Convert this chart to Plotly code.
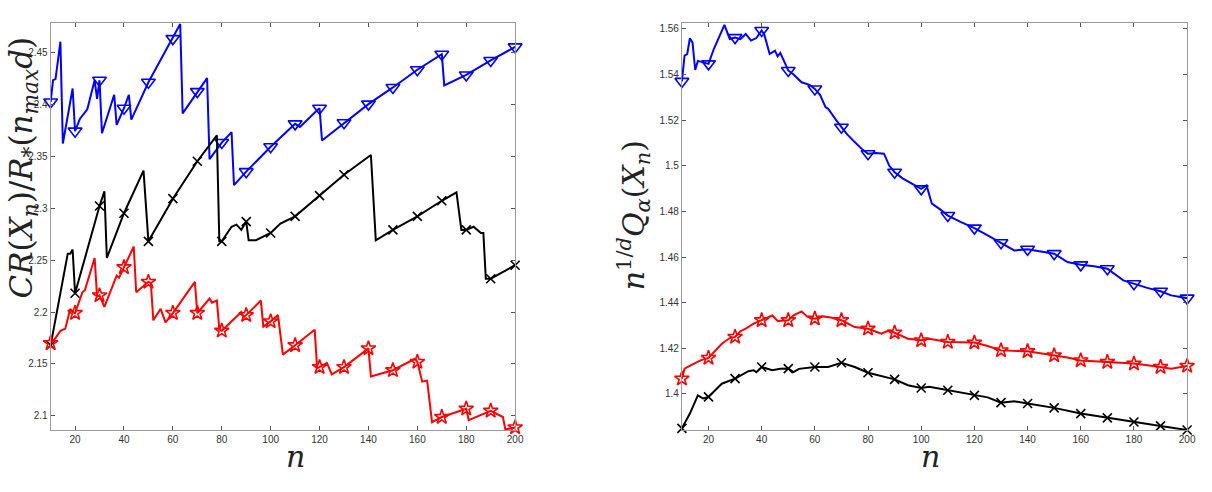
import plotly.graph_objects as go

# ---------------- Left panel: CR(X_n)/R_*(n_max d) ----------------
left_blue_n = [10, 11, 12, 14, 15, 19, 20, 22, 25, 28, 29, 30, 31, 36, 37, 40, 42, 43, 50, 60, 63, 64,
               70, 74, 75, 80, 84, 85, 90, 100, 110, 112, 119, 120, 121, 130, 140, 150, 160, 170, 171,
               180, 190, 200]
left_blue_v = [2.402, 2.423, 2.424, 2.460, 2.362, 2.415, 2.374, 2.386, 2.395, 2.423, 2.405, 2.423, 2.372,
               2.409, 2.380, 2.396, 2.409, 2.385, 2.421, 2.463, 2.477, 2.391, 2.412, 2.425, 2.347, 2.363,
               2.373, 2.322, 2.335, 2.359, 2.381, 2.378, 2.394, 2.396, 2.365, 2.382, 2.400, 2.416, 2.433,
               2.448, 2.418, 2.428, 2.442, 2.455]

left_black_n = [10, 12, 13, 17, 18, 19, 20, 30, 32, 33, 40, 48, 50, 60, 70, 78, 79, 80, 84, 86, 88, 90,
                91, 94, 100, 104, 110, 120, 130, 141, 143, 150, 160, 170, 176, 178, 180, 183, 186, 187,
                188, 190, 200]
left_black_v = [2.168, 2.194, 2.203, 2.256, 2.256, 2.260, 2.218, 2.302, 2.316, 2.252, 2.295, 2.336, 2.268,
                2.309, 2.345, 2.370, 2.268, 2.268, 2.282, 2.284, 2.279, 2.287, 2.269, 2.269, 2.276, 2.285,
                2.292, 2.312, 2.332, 2.351, 2.269, 2.279, 2.292, 2.307, 2.315, 2.279, 2.279, 2.282, 2.276,
                2.276, 2.232, 2.232, 2.245]

left_red_n = [10, 12, 14, 16, 18, 19, 20, 23, 24, 28, 29, 30, 32, 37, 38, 40, 44, 45, 48, 50, 51, 52, 55,
              57, 60, 69, 70, 75, 76, 78, 79, 80, 88, 89, 90, 96, 97, 100, 103, 105, 110, 118, 119, 120,
              123, 125, 130, 140, 141, 150, 159, 160, 162, 164, 166, 170, 180, 181, 190, 195, 196, 200]
left_red_v = [2.170, 2.175, 2.182, 2.184, 2.203, 2.200, 2.199, 2.219, 2.221, 2.252, 2.215, 2.216, 2.205,
              2.235, 2.233, 2.243, 2.263, 2.219, 2.225, 2.229, 2.228, 2.192, 2.203, 2.190, 2.199, 2.229,
              2.199, 2.213, 2.209, 2.211, 2.183, 2.182, 2.200, 2.195, 2.197, 2.211, 2.186, 2.191, 2.197,
              2.159, 2.168, 2.183, 2.146, 2.147, 2.151, 2.140, 2.147, 2.165, 2.138, 2.144, 2.155, 2.152,
              2.133, 2.134, 2.094, 2.099, 2.107, 2.096, 2.105, 2.099, 2.087, 2.089]

# ---------------- Right panel: n^{1/d} Q_alpha(X_n) ----------------
right_blue_n = [10, 11, 12, 13, 14, 15, 16, 18, 20, 22, 26, 28, 30, 32, 34, 36, 38, 40, 41, 43, 45, 46,
                47, 50, 52, 55, 58, 60, 62, 64, 65, 68, 70, 72, 75, 78, 80, 83, 86, 88, 90, 93, 96, 100,
                102, 104, 107, 110, 115, 120, 125, 130, 135, 140, 145, 150, 155, 160, 165, 170, 176, 180,
                185, 190, 194, 200]
right_blue_v = [1.5370, 1.5483, 1.5490, 1.5559, 1.5540, 1.5420, 1.5460, 1.5455, 1.5447, 1.5512, 1.5618,
                1.5556, 1.5562, 1.5555, 1.5578, 1.5549, 1.5560, 1.5593, 1.5575, 1.5490, 1.5505, 1.5480,
                1.5495, 1.5418, 1.5400, 1.5366, 1.5355, 1.5337, 1.5310, 1.5257, 1.5250, 1.5200, 1.5169,
                1.5140, 1.5104, 1.5070, 1.5053, 1.5056, 1.5053, 1.5000, 1.4972, 1.4945, 1.4925, 1.4899,
                1.4914, 1.4834, 1.4810, 1.4782, 1.4753, 1.4727, 1.4695, 1.4663, 1.4629, 1.4634, 1.4625,
                1.4615, 1.4578, 1.4566, 1.4560, 1.4549, 1.4498, 1.4483, 1.4465, 1.4450, 1.4432, 1.4420]

right_red_n = [10, 11, 14, 17, 20, 25, 28, 30, 32, 34, 37, 40, 42, 44, 46, 50, 52, 55, 57, 60, 63, 66,
               70, 75, 80, 85, 88, 90, 95, 100, 103, 110, 120, 125, 130, 140, 150, 155, 160, 170, 180,
               190, 194, 200]
right_red_v = [1.4067, 1.4111, 1.4130, 1.4147, 1.4158, 1.4220, 1.4245, 1.4250, 1.4275, 1.4286, 1.4308,
               1.4323, 1.4335, 1.4344, 1.4320, 1.4323, 1.4345, 1.4362, 1.4340, 1.4330, 1.4340, 1.4335,
               1.4323, 1.4293, 1.4286, 1.4264, 1.4279, 1.4269, 1.4242, 1.4235, 1.4242, 1.4228, 1.4225,
               1.4210, 1.4191, 1.4187, 1.4169, 1.4160, 1.4147, 1.4140, 1.4133, 1.4118, 1.4111, 1.4123]

right_black_n = [10, 13, 16, 18, 20, 25, 30, 33, 35, 37, 38, 40, 44, 47, 50, 52, 54, 60, 65, 70, 75, 80,
                 85, 90, 95, 100, 103, 110, 115, 120, 125, 130, 135, 140, 150, 160, 170, 180, 190, 200]
right_black_v = [1.3849, 1.3914, 1.3994, 1.3980, 1.3987, 1.4045, 1.4067, 1.4085, 1.4100, 1.4104, 1.4095,
                 1.4118, 1.4104, 1.4110, 1.4111, 1.4096, 1.4110, 1.4118, 1.4118, 1.4137, 1.4118, 1.4093,
                 1.4080, 1.4064, 1.4038, 1.4026, 1.4031, 1.4016, 1.4008, 1.3994, 1.3985, 1.3962, 1.3968,
                 1.3958, 1.3939, 1.3914, 1.3895, 1.3877, 1.3860, 1.3842]

x_ticks = [20, 40, 60, 80, 100, 120, 140, 160, 180, 200]
left_y_ticks = [2.1, 2.15, 2.2, 2.25, 2.3, 2.35, 2.4, 2.45]
left_y_labels = ["2.1", "2.15", "2.2", "2.25", "2.3", "2.35", "2.4", "2.45"]
right_y_ticks = [1.4, 1.42, 1.44, 1.46, 1.48, 1.5, 1.52, 1.54, 1.56]
right_y_labels = ["1.4", "1.42", "1.44", "1.46", "1.48", "1.5", "1.52", "1.54", "1.56"]

BLUE, BLACK, RED = "#0000ff", "#000000", "#ff0000"

fig = go.Figure()


def add_series(ns, vs, color, symbol, msize, xa, ya):
    fig.add_trace(go.Scatter(x=ns, y=vs, mode="lines", line=dict(color=color, width=2),
                             xaxis=xa, yaxis=ya, showlegend=False, hoverinfo="skip"))
    mn = [n for n in ns if n % 10 == 0]
    mv = [v for n, v in zip(ns, vs) if n % 10 == 0]
    fig.add_trace(go.Scatter(x=mn, y=mv, mode="markers",
                             marker=dict(symbol=symbol, size=msize, color=color,
                                         line=dict(color=color, width=1.6)),
                             xaxis=xa, yaxis=ya, showlegend=False, cliponaxis=False))


add_series(left_blue_n, left_blue_v, BLUE, "triangle-down-open", 12, "x", "y")
add_series(left_black_n, left_black_v, BLACK, "x-thin-open", 9, "x", "y")
add_series(left_red_n, left_red_v, RED, "star-open", 11, "x", "y")
add_series(right_blue_n, right_blue_v, BLUE, "triangle-down-open", 12, "x2", "y2")
add_series(right_red_n, right_red_v, RED, "star-open", 11, "x2", "y2")
add_series(right_black_n, right_black_v, BLACK, "x-thin-open", 9, "x2", "y2")

axis_common = dict(showgrid=False, zeroline=False, showline=True, linecolor="#9a9a9a", linewidth=1,
                   mirror="allticks", ticks="inside", ticklen=4, tickcolor="#555555", tickwidth=1,
                   tickfont=dict(family="Liberation Sans, Arial", size=10, color="#333333"))

ydom = [62 / 492, 469 / 492]
fig.update_layout(
    width=1212, height=492, margin=dict(l=0, r=0, t=0, b=0),
    paper_bgcolor="white", plot_bgcolor="white",
    xaxis=dict(domain=[51 / 1212, 519 / 1212], range=[10, 200], tickvals=x_ticks, anchor="y", **axis_common),
    yaxis=dict(domain=ydom, range=[2.0865, 2.478], tickvals=left_y_ticks, ticktext=left_y_labels,
               anchor="x", **axis_common),
    xaxis2=dict(domain=[687 / 1212, 1196 / 1212], range=[10, 200], tickvals=x_ticks, anchor="y2", **axis_common),
    yaxis2=dict(domain=ydom, range=[1.3842, 1.5626], tickvals=right_y_ticks, ticktext=right_y_labels,
                anchor="x2", **axis_common),
)

serif = "DejaVu Serif, Liberation Serif, serif"
fig.add_annotation(text="<i>n</i>", xref="paper", yref="paper", x=286 / 1212, y=1 - 476 / 492,
                   showarrow=False, font=dict(family=serif, size=30, color="#222222"))
fig.add_annotation(text="<i>n</i>", xref="paper", yref="paper", x=949 / 1212, y=1 - 476 / 492,
                   showarrow=False, font=dict(family=serif, size=30, color="#222222"))
fig.add_annotation(text="<i>CR</i>(<i>X<sub>n</sub></i>)/<i>R</i><sub>*</sub>(<i>n<sub>max</sub>d</i>)",
                   xref="paper", yref="paper", x=0, xanchor="left", y=1 - 168 / 492, textangle=-90,
                   showarrow=False, font=dict(family=serif, size=31, color="#222222"))
fig.add_annotation(text="<i>n</i><sup>1/<i>d</i></sup><i>Q<sub>α</sub></i>(<i>X<sub>n</sub></i>)",
                   xref="paper", yref="paper", x=638 / 1212, y=1 - 215 / 492, textangle=-90,
                   showarrow=False, font=dict(family=serif, size=30, color="#222222"))

fig.write_html("out.html")
